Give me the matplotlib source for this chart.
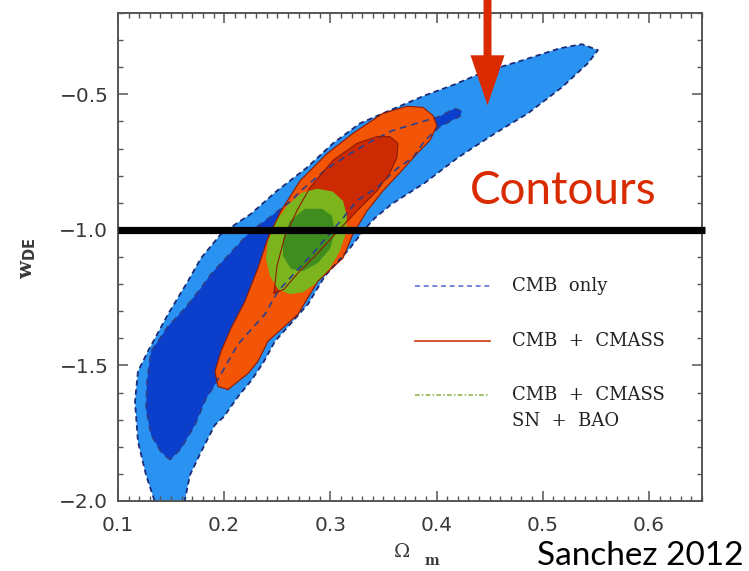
import matplotlib
matplotlib.use("Agg")
import matplotlib.pyplot as plt
from matplotlib.patches import FancyArrow
from matplotlib.ticker import MultipleLocator, FixedLocator

# ---- contour regions in (Omega_m, w_DE) ----
cmb95_om = [0.137, 0.1264, 0.1188, 0.116, 0.1188, 0.1282, 0.1471, 0.1659, 0.1782, 0.197,
            0.2111, 0.2252, 0.2497, 0.278, 0.3024, 0.3279, 0.3561, 0.3891, 0.4173, 0.4437,
            0.4814, 0.5162, 0.5369, 0.552, 0.5426, 0.5181, 0.4861, 0.455, 0.4202, 0.3891,
            0.358, 0.342, 0.3326, 0.3185, 0.2949, 0.2789, 0.2478, 0.2375, 0.2262, 0.213,
            0.1995, 0.1913, 0.1782, 0.1678, 0.1612]
cmb95_w = [-2.03, -1.904, -1.781, -1.633, -1.522, -1.448, -1.311, -1.189, -1.104, -1.015,
           -0.978, -0.941, -0.856, -0.770, -0.681, -0.607, -0.559, -0.504, -0.463, -0.419,
           -0.374, -0.330, -0.315, -0.337, -0.385, -0.474, -0.570, -0.644, -0.733, -0.826,
           -0.904, -0.956, -0.996, -1.067, -1.170, -1.274, -1.411, -1.485, -1.552, -1.615,
           -1.690, -1.719, -1.819, -1.904, -2.03]

cmb68_om = [0.149, 0.1405, 0.1311, 0.1264, 0.1273, 0.1311, 0.1471, 0.1631, 0.1772, 0.1876,
            0.2102, 0.2252, 0.2384, 0.2507, 0.2629, 0.2733, 0.2968, 0.3185, 0.3401, 0.3589,
            0.3872, 0.4032, 0.4173, 0.4239, 0.422, 0.4032, 0.3891, 0.3778, 0.3627, 0.3439,
            0.325, 0.3119, 0.2855, 0.2507, 0.2384, 0.213, 0.1913, 0.1829, 0.1725, 0.1593]
cmb68_w = [-1.848, -1.819, -1.756, -1.659, -1.559, -1.448, -1.356, -1.289, -1.219, -1.163,
           -1.067, -1.004, -0.967, -0.930, -0.893, -0.852, -0.774, -0.719, -0.670, -0.633,
           -0.600, -0.581, -0.552, -0.563, -0.581, -0.619, -0.670, -0.733, -0.774, -0.844,
           -0.893, -0.956, -1.078, -1.226, -1.311, -1.422, -1.570, -1.622, -1.719, -1.807]

cmass95_om = [0.2036, 0.1942, 0.1913, 0.197, 0.2064, 0.2196, 0.2318, 0.2412, 0.2535, 0.2714,
              0.2968, 0.3213, 0.3495, 0.3721, 0.3872, 0.3966, 0.4004, 0.3938, 0.3815, 0.3655,
              0.3495, 0.3345, 0.3213, 0.3119, 0.2883, 0.2695, 0.2412, 0.2318, 0.2224, 0.213]
cmass95_w = [-1.589, -1.578, -1.522, -1.448, -1.363, -1.263, -1.141, -1.030, -0.930, -0.819,
             -0.719, -0.644, -0.570, -0.544, -0.548, -0.578, -0.615, -0.670, -0.719, -0.789,
             -0.856, -0.930, -1.015, -1.104, -1.189, -1.311, -1.411, -1.485, -1.530, -1.559]

cmass68_om = [0.2469, 0.2497, 0.2573, 0.2695, 0.2808, 0.3024, 0.325, 0.3439, 0.3561, 0.3637,
              0.3627, 0.3561, 0.3439, 0.3279, 0.309, 0.2883, 0.2695, 0.2563]
cmass68_w = [-1.233, -1.133, -1.022, -0.922, -0.844, -0.744, -0.681, -0.656, -0.656, -0.681,
             -0.733, -0.789, -0.856, -0.919, -0.996, -1.085, -1.159, -1.219]

all95_om = [0.2874, 0.3024, 0.3119, 0.3156, 0.3147, 0.309, 0.2996, 0.2883, 0.2742, 0.262,
            0.2507, 0.2431, 0.2394, 0.2412, 0.2488, 0.2601, 0.2733]
all95_w = [-0.848, -0.859, -0.893, -0.948, -1.011, -1.078, -1.141, -1.193, -1.230, -1.237,
           -1.219, -1.170, -1.107, -1.041, -0.967, -0.907, -0.863]

all68_om = [0.2761, 0.2921, 0.3015, 0.3043, 0.2996, 0.2883, 0.2742, 0.2629, 0.2554, 0.2554, 0.262]
all68_w = [-0.922, -0.922, -0.948, -1.004, -1.070, -1.122, -1.152, -1.144, -1.096, -1.033, -0.967]

legend_labels = ["CMB  only", "CMB  +  CMASS", "CMB  +  CMASS"]
legend_extra = "SN  +  BAO"
x_ticks = [0.1, 0.2, 0.3, 0.4, 0.5, 0.6]
y_ticks = [-2.0, -1.5, -1.0, -0.5]
w_lambda = -1.0

LIGHT_BLUE = "#2a93f2"
DARK_BLUE = "#0b3fcb"
ORANGE = "#f25506"
DARK_RED = "#cc2a02"
LIGHT_GREEN = "#7bb41c"
DARK_GREEN = "#3f8c1f"
RED = "#d92a00"
TEXT = "#3a3a3a"


def closed(xs, ys):
    return list(xs) + [xs[0]], list(ys) + [ys[0]]


fig = plt.figure(figsize=(7.49, 5.71), dpi=100)
ax = fig.add_axes([118 / 749, 1 - 501 / 571, 584 / 749, 488 / 571])
ax.set_xlim(0.1, 0.65)
ax.set_ylim(-2.0, -0.2)

# filled regions
ax.fill(cmb95_om, cmb95_w, color=LIGHT_BLUE, lw=0, zorder=1)
ax.fill(cmb68_om, cmb68_w, color=DARK_BLUE, lw=0, zorder=2)
ax.fill(cmass95_om, cmass95_w, color=ORANGE, lw=0, zorder=3)
ax.fill(cmass68_om, cmass68_w, color=DARK_RED, lw=0, zorder=4)
ax.fill(all95_om, all95_w, color=LIGHT_GREEN, lw=0, zorder=5)
ax.fill(all68_om, all68_w, color=DARK_GREEN, lw=0, zorder=6)

# contour outlines
ax.plot(*closed(cmb95_om, cmb95_w), color="#1a2c78", lw=1.3, ls=(0, (3, 2)), zorder=7)
ax.plot(*closed(cmb68_om, cmb68_w), color="#2c3f8c", lw=1.2, ls=(0, (4, 3)), zorder=7)
ax.plot(*closed(cmass95_om, cmass95_w), color="#8e1a00", lw=0.8, zorder=7)
ax.plot(*closed(cmass68_om, cmass68_w), color="#8e1a00", lw=0.8, zorder=7)

# w = -1 reference line
ax.plot([0.1, 0.653], [w_lambda, w_lambda], color="black", lw=5.2,
        solid_capstyle="butt", clip_on=False, zorder=9)

# axes styling
for sp in ax.spines.values():
    sp.set_color("#555555")
    sp.set_linewidth(1.4)
ax.xaxis.set_major_locator(FixedLocator(x_ticks))
ax.yaxis.set_major_locator(FixedLocator(y_ticks))
ax.xaxis.set_minor_locator(MultipleLocator(0.01))
ax.yaxis.set_minor_locator(MultipleLocator(0.1))
ax.tick_params(which="both", direction="in", top=True, right=True, color="#555555")
ax.tick_params(which="major", length=7, width=1.1)
ax.tick_params(which="minor", length=3.5, width=1.0)
ax.tick_params(axis="x", which="major", pad=11)
ax.tick_params(axis="y", which="major", pad=7)
ax.set_xticklabels([f"{v:.1f}" for v in x_ticks], fontsize=14.5, color=TEXT,
                   family="DejaVu Sans")
ax.set_yticklabels([f"\u2212{abs(v):.1f}" for v in y_ticks], fontsize=14.5,
                   color=TEXT, family="DejaVu Sans")

# axis labels
fig.text(28 / 749, 1 - 258 / 571, r"w$_{\mathbf{DE}}$", rotation=90, ha="center",
         va="center", fontsize=15, color=TEXT, family="DejaVu Serif",
         fontweight="bold")
fig.text(402 / 749, 1 - 552 / 571, "\u03a9", ha="center", va="center", fontsize=14,
         color=TEXT, family="DejaVu Serif")
fig.text(432 / 749, 1 - 561 / 571, "m", ha="center", va="center", fontsize=10,
         color=TEXT, family="DejaVu Serif", fontweight="bold")

# legend
leg_y = [286, 341, 395]
leg_styles = [dict(color="#5a78d6", ls=(0, (3, 2.2)), lw=1.2),
              dict(color="#d03412", ls="-", lw=1.2),
              dict(color="#86b23a", ls=(0, (3, 1.5, 1, 1.5)), lw=1.1)]
for label, yp, st in zip(legend_labels, leg_y, leg_styles):
    yf = 1 - yp / 571
    fig.add_artist(plt.Line2D([415 / 749, 490 / 749], [yf, yf], **st))
    fig.text(512 / 749, yf, label, ha="left", va="center", fontsize=13,
             color="#222222", family="DejaVu Serif")
fig.text(512 / 749, 1 - 421 / 571, legend_extra, ha="left", va="center", fontsize=13,
         color="#222222", family="DejaVu Serif")

# annotation arrow and captions
ax.add_patch(FancyArrow(0.448, -0.12, 0.0, -0.421, width=0.0075, head_width=0.032,
                        head_length=0.185, length_includes_head=True, color=RED,
                        lw=0, clip_on=False, zorder=10))
fig.text(470 / 749, 1 - 204 / 571, "Contours", ha="left", va="baseline", fontsize=33,
         color=RED, family="Lato")
fig.text(537 / 749, 1 - 565 / 571, "Sanchez 2012", ha="left", va="baseline",
         fontsize=24, color="black", family="Lato")

fig.savefig("out.png", dpi=100)
